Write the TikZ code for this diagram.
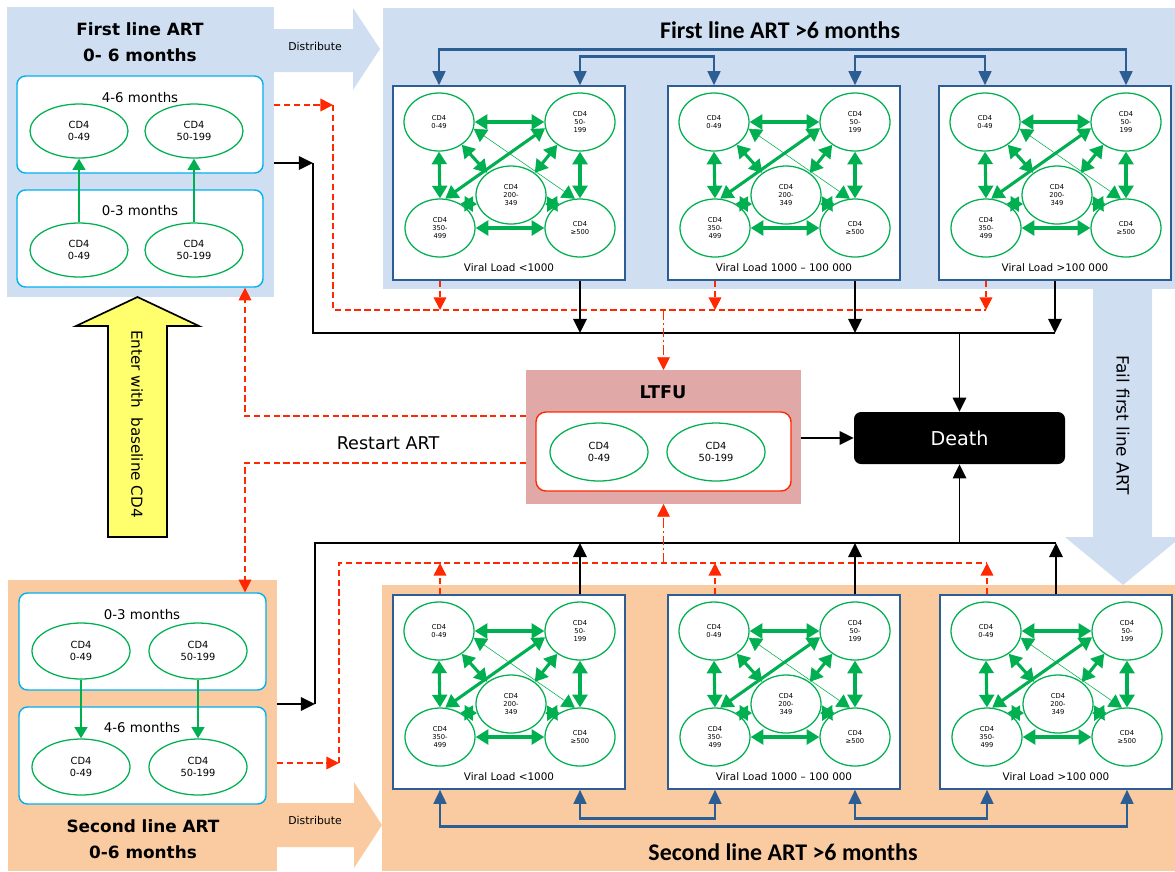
\documentclass[tikz,border=0pt]{standalone}
\usepackage{fontspec}
\setmainfont{DejaVu Sans}
\newfontfamily\headfont{Carlito}
\usetikzlibrary{arrows.meta,shapes.geometric}

\definecolor{firstbg}{RGB}{207,222,241}
\definecolor{secondbg}{RGB}{250,203,161}
\definecolor{ltfubg}{RGB}{224,169,168}
\definecolor{stagecyan}{RGB}{0,176,240}
\definecolor{cdgreen}{RGB}{0,176,80}
\definecolor{lostred}{RGB}{255,40,0}
\definecolor{vlblue}{RGB}{44,94,148}
\definecolor{enteryellow}{RGB}{255,255,110}

\tikzset{
  dims/.style 2 args={minimum width=#1*0.025cm, minimum height=#2*0.025cm},
  panel/.style={rectangle, inner sep=0pt, outer sep=0pt},
  stagebox/.style={rectangle, rounded corners=6pt, draw=stagecyan, line width=1pt, fill=white, inner sep=0pt},
  cdbig/.style={ellipse, draw=cdgreen, line width=0.9pt, fill=white, inner sep=1pt, align=center,
    font=\fontsize{7}{8.8}\selectfont, dims={98}{54}},
  cdsmall/.style={ellipse, draw=cdgreen, line width=0.9pt, fill=white, inner sep=0.5pt, align=center,
    font=\fontsize{4.8}{5.9}\selectfont, dims={70}{58}},
  vlframe/.style={rectangle, draw=vlblue, line width=1pt, fill=white, inner sep=0pt, dims={232}{194}},
  vltext/.style={font=\fontsize{7.4}{9}\selectfont},
  stagetext/.style={font=\fontsize{9.5}{11}\selectfont},
  smalltext/.style={font=\fontsize{7.7}{9}\selectfont},
  titleL/.style={font=\bfseries\fontsize{12}{18.5}\selectfont, align=center},
  titleR/.style={font=\headfont\bfseries\fontsize{17}{20}\selectfont},
  gdbl/.style={cdgreen, line width=2.2pt, {Triangle[length=9pt,width=10.5pt]}-{Triangle[length=9pt,width=10.5pt]}},
  gthin/.style={cdgreen, line width=0.4pt, {Triangle[length=9pt,width=10.5pt]}-{Triangle[length=9pt,width=10.5pt]}},
  gup/.style={cdgreen, line width=1.5pt, -{Triangle[length=8pt,width=9pt]}},
  blk/.style={black, line width=1.3pt, -{Triangle[length=10pt,width=9.5pt]}},
  rdash/.style={lostred, line width=1.2pt, dash pattern=on 4.5pt off 2.5pt, -{Triangle[length=9pt,width=9pt]}},
  rdot/.style={lostred, line width=0.5pt, dash pattern=on 7pt off 2pt on 1.5pt off 2pt, -{Triangle[length=9pt,width=9pt]}},
  blu/.style={vlblue, line width=1.8pt, {Triangle[length=10pt,width=9pt]}-{Triangle[length=10pt,width=9pt]}},
}

% one viral load box: name, left x, top y, label
\newcommand{\vlbox}[4]{%
  \node[vlframe] (#1) at (#2+116,#3+97) {};
  \node[cdsmall] (#1a) at (#2+46,#3+36) {CD4\\0-49};
  \node[cdsmall] (#1b) at (#2+187,#3+36) {CD4\\50-\\199};
  \node[cdsmall] (#1c) at (#2+118,#3+109) {CD4\\200-\\349};
  \node[cdsmall] (#1d) at (#2+47,#3+142) {CD4\\350-\\499};
  \node[cdsmall] (#1e) at (#2+187,#3+142) {CD4\\≥500};
  \node[vltext] (#1l) at (#2+116,#3+182) {#4};
  \draw[gthin] (#1a.-11) -- (#1e.100);
  \draw[gdbl] (#1a.east) -- (#1b.west);
  \draw[gdbl] (#1d.east) -- (#1e.west);
  \draw[gdbl] (#1a.south) -- (#1d.north);
  \draw[gdbl] (#1b.south) -- (#1e.north);
  \draw[gdbl] (#1d.80) -- (#1b.190);
  \draw[gdbl] (#1a.-45) -- (#1c.137);
  \draw[gdbl] (#1b.225) -- (#1c.43);
  \draw[gdbl] (#1d.50) -- (#1c.195);
  \draw[gdbl] (#1e.130) -- (#1c.-15);
}

\begin{document}
\begin{tikzpicture}[x=0.025cm,y=-0.025cm]
\useasboundingbox (0,0) rectangle (1175,871);

% panels
\node[panel,fill=firstbg,dims={267}{290}] (flp) at (140.5,152) {};
\node[panel,fill=firstbg,dims={792}{281}] (frp) at (779,148.5) {};
\node[panel,fill=secondbg,dims={269}{291}] (slp) at (142.5,725.5) {};
\node[panel,fill=secondbg,dims={793}{286}] (srp) at (778.5,728) {};
\node[panel,fill=ltfubg,dims={275}{134}] (ltfu) at (663.5,437) {};

% block arrows
\fill[firstbg] (272,29) -- (353,29) -- (353,8) -- (380,49) -- (353,90) -- (353,72) -- (272,72) -- cycle;
\node[smalltext] (dist1) at (315,46) {Distribute};
\fill[secondbg] (276,803) -- (354,803) -- (354,782) -- (382,825) -- (354,868) -- (354,847) -- (276,847) -- cycle;
\node[smalltext] (dist2) at (315,820) {Distribute};
\fill[firstbg] (1093,288) -- (1152,288) -- (1152,537) -- (1181,537) -- (1123,585) -- (1065,537) -- (1093,537) -- cycle;
\node[font=\fontsize{12}{14}\selectfont,rotate=-90] (fail) at (1123,425) {Fail first line ART};
\filldraw[fill=enteryellow,draw=black,line width=1.2pt] (108,537) -- (108,326) -- (76,326) -- (137.5,297)
  -- (199,326) -- (167,326) -- (167,537) -- cycle;
\node[font=\fontsize{10.8}{13}\selectfont,rotate=-90] (enter) at (137,424) {Enter with\ \ baseline CD4};

% titles
\node[titleL] (flt) at (140,42) {First line ART\\0- 6 months};
\node[titleL] (slt) at (143,839) {Second line ART\\0-6 months};
\node[titleR] (frt) at (780,30) {First line ART >6 months};
\node[titleR] (srt) at (783,852) {Second line ART >6 months};
\node[font=\bfseries\fontsize{12.5}{14}\selectfont] (ltt) at (663,392) {LTFU};

% first line 0-6 months
\node[stagebox,dims={246}{97}] (fl46) at (140,124.5) {};
\node[stagetext] (fl46t) at (140,98) {4-6 months};
\node[cdbig] (fl46a) at (79,131) {CD4\\0-49};
\node[cdbig] (fl46b) at (194,131) {CD4\\50-199};
\node[stagebox,dims={246}{97}] (fl03) at (140,238.5) {};
\node[stagetext] (fl03t) at (140,211) {0-3 months};
\node[cdbig] (fl03a) at (79,250) {CD4\\0-49};
\node[cdbig] (fl03b) at (194,250) {CD4\\50-199};
\draw[gup] (fl03a) -- (fl46a);
\draw[gup] (fl03b) -- (fl46b);

% second line 0-6 months
\node[stagebox,dims={247}{97}] (sl03) at (142.5,641.5) {};
\node[stagetext] (sl03t) at (142,615) {0-3 months};
\node[cdbig,dims={98}{56}] (sl03a) at (81,651) {CD4\\0-49};
\node[cdbig,dims={98}{56}] (sl03b) at (198,651) {CD4\\50-199};
\node[stagebox,dims={247}{97}] (sl46) at (142.5,755.5) {};
\node[stagetext] (sl46t) at (142,728) {4-6 months};
\node[cdbig,dims={98}{56}] (sl46a) at (81,767) {CD4\\0-49};
\node[cdbig,dims={98}{56}] (sl46b) at (198,767) {CD4\\50-199};
\draw[gup] (sl03a) -- (sl46a);
\draw[gup] (sl03b) -- (sl46b);

% viral load boxes
\vlbox{t1}{393}{86}{Viral Load <1000}
\vlbox{t2}{668}{86}{Viral Load 1000 – 100 000}
\vlbox{t3}{939}{86}{Viral Load >100 000}
\vlbox{b1}{393}{595}{Viral Load <1000}
\vlbox{b2}{668}{595}{Viral Load 1000 – 100 000}
\vlbox{b3}{940}{595}{Viral Load >100 000}

% distribution between boxes
\draw[blu] (t1a |- t1.north) -- ++(0,-36) -| (t3b |- t3.north);
\draw[blu] (t1b |- t1.north) -- ++(0,-29) -| (t2a |- t2.north);
\draw[blu] (t2b |- t2.north) -- ++(0,-29) -| (t3a |- t3.north);
\draw[blu] (b1d |- b1.south) -- ++(0,37) -| (b3e |- b3.south);
\draw[blu] (b1e |- b1.south) -- ++(0,29) -| (b2d |- b2.south);
\draw[blu] (b2e |- b2.south) -- ++(0,29) -| (b3d |- b3.south);

% LTFU and death
\node[rectangle,rounded corners=7pt,draw=lostred,line width=1pt,fill=white,dims={255}{79}] (ltin) at (663.5,451.5) {};
\node[cdbig,dims={98}{58}] (lta) at (599,452) {CD4\\0-49};
\node[cdbig,dims={98}{58}] (ltb) at (716,452) {CD4\\50-199};
\node[rectangle,rounded corners=5pt,fill=black,text=white,font=\fontsize{13.6}{15}\selectfont,dims={211}{52}] (death) at (959.5,438) {Death};
\draw[blk] (ltfu.east |- death) -- (death.west);

% deaths, first line
\coordinate (tb0) at (313,163);
\coordinate (tb1) at (313,333);
\coordinate (tb2) at (t3 |- tb1);
\draw[blk] (flp.east |- tb0) -- (tb0);
\draw[blk,-] (tb0) -- (tb1) -- (tb2);
\draw[blk] (t1e |- t1.south) -- (t1e |- tb1);
\draw[blk] (t2e |- t2.south) -- (t2e |- tb1);
\draw[blk] (t3.south) -- (t3 |- tb1);
\draw[blk] (death |- tb1) -- (death.north);

% loss to follow-up, first line
\coordinate (tr0) at (333,105);
\coordinate (tr1) at (333,310);
\coordinate (tr2) at (t3d |- tr1);
\draw[rdash] (flp.east |- tr0) -- (tr0);
\draw[rdash,-] (tr0) -- (tr1) -- (tr2);
\draw[rdash] (t1d |- t1.south) -- (t1d |- tr1);
\draw[rdash] (t2d |- t2.south) -- (t2d |- tr1);
\draw[rdash] (t3d |- t3.south) -- (t3d |- tr1);
\draw[rdot] (ltfu |- tr1) -- (ltfu.north);

% deaths, second line
\coordinate (bb0) at (315,704);
\coordinate (bb1) at (315,543);
\coordinate (bb2) at (b3 |- bb1);
\draw[blk] (slp.east |- bb0) -- (bb0);
\draw[blk,-] (bb0) -- (bb1) -- (bb2);
\draw[blk] (b1e |- b1.north) -- (b1e |- bb1);
\draw[blk] (b2e |- b2.north) -- (b2e |- bb1);
\draw[blk] (b3.north) -- (b3 |- bb1);
\draw[blk] (death |- bb1) -- (death.south);

% loss to follow-up, second line
\coordinate (br0) at (339,763);
\coordinate (br1) at (339,563);
\coordinate (br2) at (b3d |- br1);
\draw[rdash] (slp.east |- br0) -- (br0);
\draw[rdash,-] (br0) -- (br1) -- (br2);
\draw[rdash] (b1d |- b1.north) -- (b1d |- br1);
\draw[rdash] (b2d |- b2.north) -- (b2d |- br1);
\draw[rdash] (b3d |- b3.north) -- (b3d |- br1);
\draw[rdot] (ltfu |- br1) -- (ltfu.south);

% restart
\coordinate (rs1) at (245,416);
\coordinate (rs2) at (245,463);
\draw[rdash] (ltfu.west |- rs1) -- (rs1) -- (rs1 |- fl03.south);
\draw[rdash] (ltfu.west |- rs2) -- (rs2) -- (rs2 |- sl03.north);
\node[font=\fontsize{12.5}{14}\selectfont] (restart) at (388,443) {Restart ART};
\end{tikzpicture}
\end{document}
